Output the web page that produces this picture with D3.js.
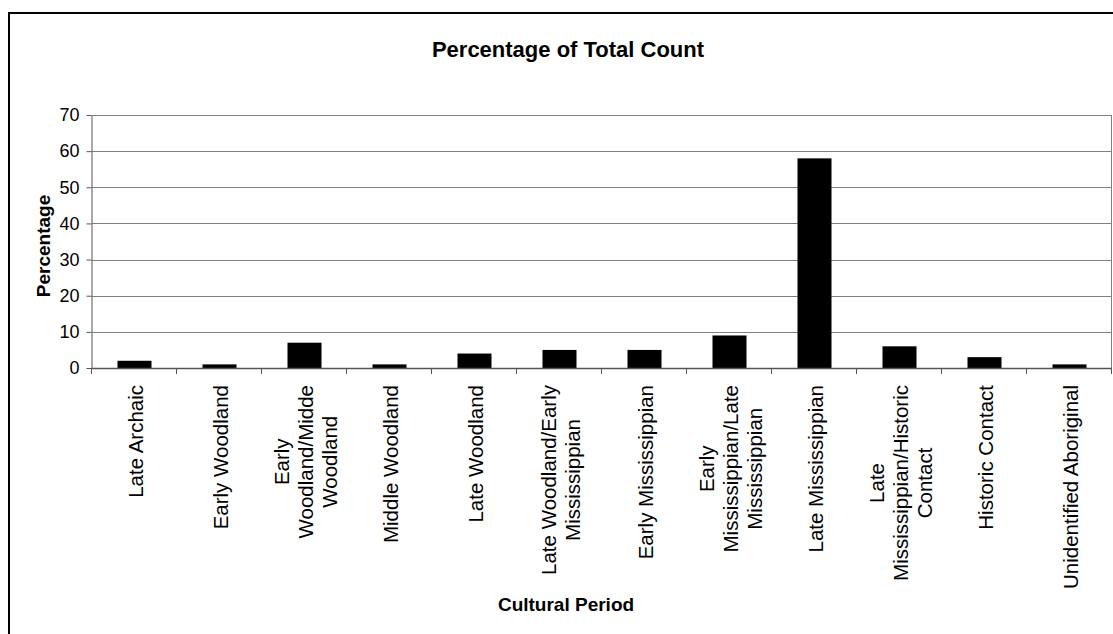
<!DOCTYPE html>
<html>
<head>
<meta charset="utf-8">
<script src="https://cdn.jsdelivr.net/npm/d3@7"></script>
<style>
  body { margin: 0; background: #fff; }
  text { font-family: "Liberation Sans", Arial, sans-serif; }
</style>
</head>
<body>
<div id="chart"></div>
<script>
// category labels (line breaks as wrapped in the original)
const categories = [
  'Late Archaic',
  'Early Woodland',
  'Early\nWoodland/Midde\nWoodland',
  'Middle Woodland',
  'Late Woodland',
  'Late Woodland/Early\nMississippian',
  'Early Mississippian',
  'Early\nMississippian/Late\nMississippian',
  'Late Mississippian',
  'Late\nMississippian/Historic\nContact',
  'Historic Contact',
  'Unidentified Aboriginal'
];
const percentages = [2, 1, 7, 1, 4, 5, 5, 9, 58, 6, 3, 1];
const yTicks = [0, 10, 20, 30, 40, 50, 60, 70];

(function() {
  const W = 1113, H = 634;
  const plot = { left: 92, right: 1112, top: 115, bottom: 368 };

  const svg = d3.select('#chart')
    .append('svg')
    .attr('width', W)
    .attr('height', H);

  svg.append('rect')
    .attr('width', W).attr('height', H)
    .attr('fill', '#fff');

  // outer chart border (runs off the canvas at right/bottom)
  svg.append('rect')
    .attr('x', 9).attr('y', 13)
    .attr('width', W + 20).attr('height', H + 20)
    .attr('fill', 'none')
    .attr('stroke', '#000')
    .attr('stroke-width', 2);

  const x = d3.scaleBand()
    .domain(categories)
    .range([plot.left, plot.right])
    .paddingInner(0.6)
    .paddingOuter(0.3);

  const y = d3.scaleLinear()
    .domain([0, 70])
    .range([plot.bottom, plot.top]);

  // gridlines
  svg.append('g')
    .selectAll('line')
    .data(yTicks.filter(d => d > 0))
    .enter()
    .append('line')
    .attr('x1', plot.left).attr('x2', plot.right)
    .attr('y1', d => Math.round(y(d)) + 0.5)
    .attr('y2', d => Math.round(y(d)) + 0.5)
    .attr('stroke', '#808080')
    .attr('stroke-width', 1);

  // plot area right border
  svg.append('line')
    .attr('x1', plot.right - 0.5).attr('x2', plot.right - 0.5)
    .attr('y1', plot.top).attr('y2', plot.bottom)
    .attr('stroke', '#808080');

  // bars
  svg.append('g')
    .selectAll('rect')
    .data(percentages)
    .enter()
    .append('rect')
    .attr('x', (d, i) => x(categories[i]))
    .attr('y', d => y(d))
    .attr('width', x.bandwidth())
    .attr('height', d => y(0) - y(d))
    .attr('fill', '#000');

  // y axis
  const yAxis = svg.append('g')
    .attr('transform', `translate(${plot.left - 0.5},0)`)
    .call(d3.axisLeft(y).tickValues(yTicks).tickSize(5).tickSizeOuter(0).tickPadding(7));
  yAxis.select('.domain').attr('stroke', '#555');
  yAxis.selectAll('.tick line').attr('stroke', '#555');
  yAxis.selectAll('.tick text')
    .style('font-size', '18px')
    .attr('fill', '#000');

  // x axis: line plus ticks at category boundaries
  const step = x.step();
  const bounds = d3.range(categories.length + 1).map(i => plot.left + i * step);
  svg.append('line')
    .attr('x1', plot.left).attr('x2', plot.right)
    .attr('y1', plot.bottom + 0.5).attr('y2', plot.bottom + 0.5)
    .attr('stroke', '#555')
    .attr('stroke-width', 1.5);
  svg.append('g')
    .selectAll('line')
    .data(bounds)
    .enter()
    .append('line')
    .attr('x1', d => Math.round(d) - 0.5).attr('x2', d => Math.round(d) - 0.5)
    .attr('y1', plot.bottom).attr('y2', plot.bottom + 6)
    .attr('stroke', '#555');

  // rotated, wrapped category labels
  const lineH = 24;
  const labelTop = 385;
  const labels = svg.append('g')
    .selectAll('g')
    .data(categories)
    .enter()
    .append('g');

  labels.each(function(d) {
    const g = d3.select(this);
    const lines = d.split('\n');
    const cx = x(d) + x.bandwidth() / 2;
    const texts = lines.map((ln, j) => g.append('text')
      .attr('transform', `rotate(-90)`)
      .attr('text-anchor', 'middle')
      .attr('y', cx + (j - (lines.length - 1) / 2) * lineH)
      .attr('dy', '0.4em')
      .style('font-size', '20.5px')
      .attr('fill', '#000')
      .text(ln));
    const maxW = d3.max(texts, t => t.node().getComputedTextLength());
    texts.forEach(t => t.attr('x', -(labelTop + maxW / 2)));
  });

  // title
  svg.append('text')
    .attr('x', 568).attr('y', 57)
    .attr('text-anchor', 'middle')
    .style('font-size', '22px')
    .style('font-weight', 'bold')
    .text('Percentage of Total Count');

  // axis titles
  svg.append('text')
    .attr('transform', 'rotate(-90)')
    .attr('x', -246).attr('y', 50)
    .attr('text-anchor', 'middle')
    .style('font-size', '19px')
    .style('font-weight', 'bold')
    .text('Percentage');

  svg.append('text')
    .attr('x', 566).attr('y', 611)
    .attr('text-anchor', 'middle')
    .style('font-size', '19px')
    .style('font-weight', 'bold')
    .text('Cultural Period');
})();
</script>
</body>
</html>
